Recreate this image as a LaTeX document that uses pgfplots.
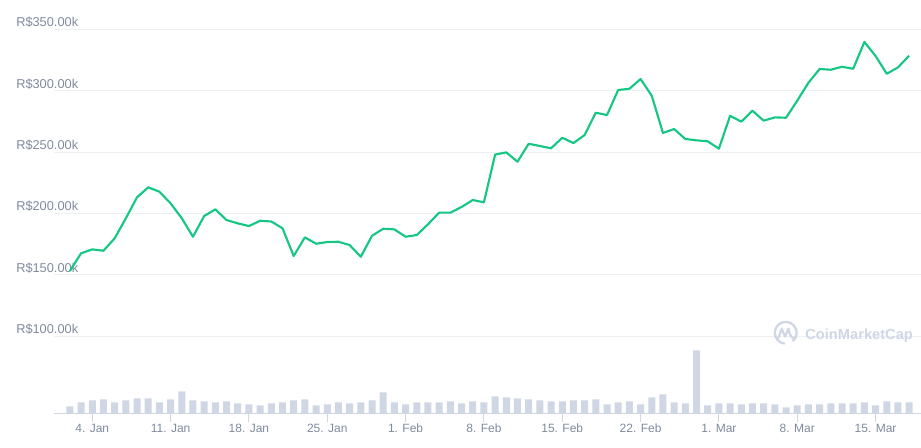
\documentclass[border=0pt]{standalone}
\usepackage{fontspec}
\setmainfont{Liberation Sans}
\usepackage{pgfplots}
\pgfplotsset{compat=1.18}
\usepackage{pgfplotstable}

\definecolor{cmcgreen}{HTML}{16C784}
\definecolor{cmcgray}{HTML}{808A9D}
\definecolor{volbar}{HTML}{CFD6E4}
\definecolor{gridcol}{HTML}{ECEFF3}

% day 1 = 2 Jan, price in thousands of R$
\pgfplotstableread{
day price
1 153.2
2 167.6
3 170.8
4 169.7
5 179.8
6 196.1
7 213.2
8 221.3
9 217.8
10 208.3
11 196.1
12 181.1
13 198.0
14 203.4
15 194.7
16 192.0
17 189.8
18 194.1
19 193.5
20 188.0
21 165.4
22 180.6
23 175.4
24 176.8
25 177.0
26 174.3
27 164.8
28 181.9
29 187.6
30 187.1
31 181.1
32 182.5
33 191.2
34 200.7
35 200.7
36 205.3
37 211.0
38 209.1
39 248.0
40 249.8
41 242.2
42 256.8
43 255.0
44 253.1
45 261.7
46 257.4
47 263.9
48 282.1
49 280.2
50 300.6
51 301.6
52 309.5
53 295.9
54 265.6
55 268.8
56 260.7
57 259.6
58 258.8
59 252.8
60 279.6
61 274.8
62 283.7
63 275.6
64 278.3
65 278.0
66 291.9
67 306.5
68 317.7
69 317.1
70 319.5
71 317.9
72 339.7
73 328.3
74 313.8
75 319.0
76 328.5
}\pricedata

% volume, relative bar heights
\pgfplotstableread{
day vol
1 7
2 11
3 13
4 14
5 11
6 13
7 15
8 15
9 11
10 14
11 22
12 13
13 12
14 11
15 12
16 10
17 9
18 8
19 10
20 11
21 13
22 14
23 8
24 9
25 11
26 10
27 11
28 13
29 21
30 11
31 9
32 11
33 11
34 11
35 12
36 10
37 12
38 11
39 17
40 16
41 15
42 14
43 13
44 12
45 12
46 13
47 13
48 14
49 9
50 11
51 12
52 9
53 16
54 19
55 11
56 10
57 63
58 8
59 10
60 10
61 9
62 10
63 10
64 9
65 6
66 8
67 9
68 9
69 10
70 10
71 10
72 11
73 8
74 12
75 11
76 11
}\voldata

\begin{document}
\begin{tikzpicture}
\useasboundingbox (-40.5pt,-26pt) rectangle (650.25pt,310pt);
\pgfplotsset{common/.style={
  scale only axis, width=650.25pt, height=288pt,
  xmin=-0.42, xmax=77.06, at={(0,0)}, anchor=south west}}

\begin{axis}[common,
  ymin=37.3, ymax=350,
  axis line style={draw=none},
  xtick=\empty,
  ytick={100,150,200,250,300,350},
  yticklabels={R\$100.00k,R\$150.00k,R\$200.00k,R\$250.00k,R\$300.00k,R\$350.00k},
  ymajorgrids, grid style={gridcol, line width=0.75pt},
  y tick style={draw=none},
  yticklabel style={anchor=base west, inner sep=0pt, xshift=-28.5pt, yshift=2pt,
    font=\fontsize{9.6}{10}\selectfont, text=cmcgray},
]
\addplot[cmcgreen, line width=1.6pt, line join=round] table[x=day, y=price]{\pricedata};
\end{axis}

% watermark
\begin{scope}[volbar]
  \draw[line width=1.7pt] (548.8pt,60.4pt) ++(-50:8.2pt)
    arc[start angle=-50, end angle=265, radius=8.2pt];
  \draw[line width=1.6pt, line join=round, line cap=round]
    (543.3pt,56.5pt) -- (545.8pt,63.5pt) -- (548.3pt,57.5pt) -- (550.8pt,63.5pt)
    .. controls (552.3pt,57pt) and (553.5pt,55.5pt) .. (556.5pt,57pt);
  \node[anchor=base west, inner sep=0pt, font=\fontsize{11}{12}\selectfont\bfseries]
    at (563.3pt,55.7pt) {CoinMarketCap};
\end{scope}

\begin{axis}[common,
  ymin=0, ymax=384,
  axis x line*=bottom, axis y line=none,
  x axis line style={volbar, line width=0.75pt},
  xtick={3,10,17,24,31,38,45,52,59,66,73},
  xticklabels={4. Jan,11. Jan,18. Jan,25. Jan,1. Feb,8. Feb,15. Feb,22. Feb,1. Mar,8. Mar,15. Mar},
  tick align=outside, major tick length=6.75pt,
  x tick style={volbar, line width=0.75pt},
  xticklabel style={anchor=base, inner sep=0pt, yshift=-8pt,
    font=\fontsize{9}{10}\selectfont, text=cmcgray},
  ytick=\empty,
]
\addplot[ybar, bar shift=0pt, bar width=0.625, fill=volbar, draw=none]
  table[x=day, y=vol]{\voldata};
\end{axis}
\end{tikzpicture}
\end{document}
